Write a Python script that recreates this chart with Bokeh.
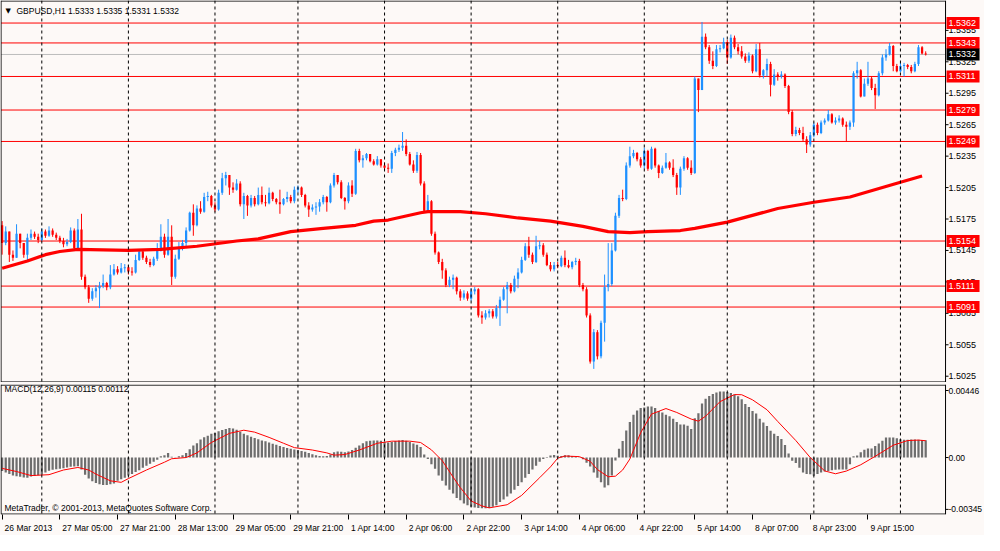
import numpy as np
from bokeh.plotting import figure
from bokeh.models import (ColumnDataSource, Span, Label, FixedTicker, Range1d)
from bokeh.layouts import column
from bokeh.embed import file_html
from bokeh.resources import INLINE
from bokeh.core.properties import value

# ---------------- data (GBPUSD H1) ----------------
first_open = 1.5169
close = [
    1.5152, 1.5163, 1.5141, 1.5138, 1.5161, 1.5152, 1.5141, 1.5157, 1.5161, 1.5158,
    1.5155, 1.5163, 1.5159, 1.5164, 1.5160, 1.5157, 1.5154, 1.5151, 1.5153, 1.5164,
    1.5147, 1.5165, 1.5120, 1.5110, 1.5099, 1.5106, 1.5109, 1.5111, 1.5114, 1.5110,
    1.5122, 1.5127, 1.5124, 1.5128, 1.5129, 1.5125, 1.5124, 1.5136, 1.5144, 1.5138,
    1.5134, 1.5131, 1.5137, 1.5145, 1.5158, 1.5141, 1.5158, 1.5120, 1.5137, 1.5147,
    1.5152, 1.5164, 1.5181, 1.5169, 1.5185, 1.5182, 1.5196, 1.5197, 1.5188, 1.5184,
    1.5200, 1.5214, 1.5217, 1.5205, 1.5203, 1.5209, 1.5189, 1.5197, 1.5188, 1.5195,
    1.5189, 1.5198, 1.5191, 1.5190, 1.5200, 1.5194, 1.5191, 1.5189, 1.5194, 1.5196,
    1.5192, 1.5203, 1.5205, 1.5198, 1.5188, 1.5184, 1.5186, 1.5187, 1.5191, 1.5196,
    1.5191, 1.5207, 1.5217, 1.5210, 1.5195, 1.5192, 1.5207, 1.5199, 1.5240, 1.5231,
    1.5233, 1.5237, 1.5230, 1.5227, 1.5232, 1.5226, 1.5224, 1.5223, 1.5238, 1.5241,
    1.5243, 1.5245, 1.5237, 1.5227, 1.5221, 1.5236, 1.5209, 1.5183, 1.5192, 1.5161,
    1.5143, 1.5134, 1.5126, 1.5112, 1.5117, 1.5119, 1.5106, 1.5100, 1.5104, 1.5099,
    1.5106, 1.5108, 1.5083, 1.5081, 1.5085, 1.5087, 1.5082, 1.5090, 1.5098, 1.5108,
    1.5112, 1.5106, 1.5118, 1.5124, 1.5136, 1.5149, 1.5141, 1.5134, 1.5149, 1.5150,
    1.5141, 1.5131, 1.5127, 1.5131, 1.5130, 1.5138, 1.5131, 1.5129, 1.5134, 1.5135,
    1.5112, 1.5108, 1.5083, 1.5039, 1.5067, 1.5044, 1.5076, 1.5110, 1.5113, 1.5145,
    1.5178, 1.5195, 1.5194, 1.5226, 1.5235, 1.5238, 1.5232, 1.5226, 1.5240, 1.5223,
    1.5242, 1.5226, 1.5219, 1.5224, 1.5229, 1.5224, 1.5217, 1.5205, 1.5223, 1.5233,
    1.5224, 1.5219, 1.5309, 1.5298, 1.5349, 1.5339, 1.5326, 1.5321, 1.5337, 1.5338,
    1.5344, 1.5329, 1.5348, 1.5339, 1.5335, 1.5330, 1.5326, 1.5331, 1.5316, 1.5337,
    1.5312, 1.5317, 1.5323, 1.5303, 1.5313, 1.5311, 1.5313, 1.5302, 1.5277, 1.5256,
    1.5260, 1.5257, 1.5251, 1.5246, 1.5255, 1.5265, 1.5257, 1.5267, 1.5269, 1.5275,
    1.5267, 1.5269, 1.5271, 1.5265, 1.5263, 1.5267, 1.5314, 1.5317, 1.5292, 1.5304,
    1.5309, 1.5300, 1.5293, 1.5314, 1.5329, 1.5332, 1.5340, 1.5321, 1.5316, 1.5321,
    1.5322, 1.5320, 1.5316, 1.5323, 1.5339, 1.5333, 1.5332]
high = [
    1.5173, 1.5168, 1.5161, 1.5145, 1.5170, 1.5161, 1.5152, 1.5161, 1.5165, 1.5163,
    1.5161, 1.5166, 1.5165, 1.5168, 1.5166, 1.5162, 1.5159, 1.5157, 1.5156, 1.5167,
    1.5166, 1.5175, 1.5180, 1.5122, 1.5112, 1.5109, 1.5112, 1.5115, 1.5122, 1.5115,
    1.5131, 1.5132, 1.5130, 1.5133, 1.5132, 1.5131, 1.5129, 1.5141, 1.5146, 1.5146,
    1.5140, 1.5137, 1.5139, 1.5152, 1.5170, 1.5161, 1.5175, 1.5169, 1.5141, 1.5153,
    1.5155, 1.5167, 1.5182, 1.5189, 1.5188, 1.5192, 1.5200, 1.5201, 1.5198, 1.5191,
    1.5203, 1.5219, 1.5220, 1.5217, 1.5210, 1.5213, 1.5211, 1.5200, 1.5198, 1.5198,
    1.5197, 1.5205, 1.5206, 1.5198, 1.5205, 1.5201, 1.5195, 1.5203, 1.5195, 1.5201,
    1.5198, 1.5206, 1.5207, 1.5206, 1.5199, 1.5191, 1.5189, 1.5191, 1.5194, 1.5198,
    1.5197, 1.5209, 1.5219, 1.5217, 1.5212, 1.5196, 1.5210, 1.5212, 1.5242, 1.5242,
    1.5236, 1.5238, 1.5237, 1.5232, 1.5235, 1.5232, 1.5229, 1.5228, 1.5240, 1.5243,
    1.5246, 1.5258, 1.5251, 1.5239, 1.5231, 1.5239, 1.5238, 1.5211, 1.5198, 1.5193,
    1.5163, 1.5144, 1.5137, 1.5128, 1.5120, 1.5122, 1.5120, 1.5108, 1.5107, 1.5106,
    1.5109, 1.5110, 1.5109, 1.5087, 1.5088, 1.5089, 1.5089, 1.5093, 1.5101, 1.5110,
    1.5115, 1.5114, 1.5121, 1.5128, 1.5139, 1.5152, 1.5158, 1.5143, 1.5159, 1.5154,
    1.5152, 1.5143, 1.5134, 1.5134, 1.5134, 1.5140, 1.5145, 1.5136, 1.5135, 1.5138,
    1.5137, 1.5114, 1.5110, 1.5085, 1.5070, 1.5069, 1.5078, 1.5122, 1.5152, 1.5152,
    1.5181, 1.5198, 1.5203, 1.5229, 1.5244, 1.5241, 1.5239, 1.5234, 1.5243, 1.5241,
    1.5244, 1.5243, 1.5227, 1.5226, 1.5238, 1.5230, 1.5232, 1.5219, 1.5225, 1.5235,
    1.5234, 1.5231, 1.5311, 1.5309, 1.5363, 1.5352, 1.5341, 1.5335, 1.5341, 1.5341,
    1.5348, 1.5346, 1.5351, 1.5350, 1.5342, 1.5340, 1.5333, 1.5334, 1.5332, 1.5342,
    1.5343, 1.5318, 1.5328, 1.5325, 1.5318, 1.5315, 1.5316, 1.5314, 1.5303, 1.5279,
    1.5263, 1.5262, 1.5263, 1.5254, 1.5258, 1.5267, 1.5267, 1.5269, 1.5271, 1.5279,
    1.5276, 1.5272, 1.5274, 1.5272, 1.5268, 1.5269, 1.5316, 1.5325, 1.5318, 1.5309,
    1.5325, 1.5311, 1.5304, 1.5316, 1.5332, 1.5337, 1.5343, 1.5341, 1.5323, 1.5324,
    1.5324, 1.5323, 1.5322, 1.5325, 1.5341, 1.5340, 1.5335]
low = [
    1.5141, 1.5150, 1.5134, 1.5135, 1.5138, 1.5147, 1.5138, 1.5134, 1.5155, 1.5156,
    1.5152, 1.5154, 1.5157, 1.5158, 1.5158, 1.5155, 1.5152, 1.5148, 1.5149, 1.5152,
    1.5145, 1.5146, 1.5117, 1.5108, 1.5095, 1.5097, 1.5100, 1.5090, 1.5109, 1.5107,
    1.5108, 1.5121, 1.5122, 1.5123, 1.5124, 1.5122, 1.5121, 1.5123, 1.5135, 1.5136,
    1.5132, 1.5129, 1.5130, 1.5135, 1.5144, 1.5138, 1.5140, 1.5112, 1.5118, 1.5136,
    1.5145, 1.5149, 1.5163, 1.5159, 1.5168, 1.5180, 1.5181, 1.5192, 1.5186, 1.5182,
    1.5183, 1.5198, 1.5207, 1.5198, 1.5200, 1.5202, 1.5187, 1.5175, 1.5178, 1.5186,
    1.5187, 1.5188, 1.5189, 1.5187, 1.5189, 1.5192, 1.5189, 1.5180, 1.5188, 1.5191,
    1.5190, 1.5190, 1.5200, 1.5196, 1.5186, 1.5177, 1.5182, 1.5179, 1.5182, 1.5189,
    1.5182, 1.5190, 1.5205, 1.5208, 1.5194, 1.5184, 1.5190, 1.5196, 1.5198, 1.5229,
    1.5224, 1.5231, 1.5229, 1.5226, 1.5226, 1.5224, 1.5222, 1.5219, 1.5219, 1.5235,
    1.5239, 1.5240, 1.5235, 1.5226, 1.5219, 1.5219, 1.5207, 1.5182, 1.5182, 1.5159,
    1.5141, 1.5132, 1.5118, 1.5110, 1.5110, 1.5108, 1.5103, 1.5097, 1.5098, 1.5097,
    1.5097, 1.5103, 1.5081, 1.5075, 1.5079, 1.5081, 1.5080, 1.5080, 1.5073, 1.5097,
    1.5085, 1.5104, 1.5105, 1.5109, 1.5123, 1.5135, 1.5138, 1.5132, 1.5133, 1.5146,
    1.5139, 1.5130, 1.5125, 1.5125, 1.5128, 1.5129, 1.5129, 1.5128, 1.5127, 1.5131,
    1.5110, 1.5106, 1.5081, 1.5037, 1.5032, 1.5041, 1.5042, 1.5058, 1.5106, 1.5111,
    1.5144, 1.5176, 1.5192, 1.5193, 1.5224, 1.5233, 1.5230, 1.5224, 1.5223, 1.5221,
    1.5222, 1.5224, 1.5214, 1.5218, 1.5223, 1.5222, 1.5215, 1.5198, 1.5198, 1.5221,
    1.5222, 1.5217, 1.5218, 1.5277, 1.5298, 1.5337, 1.5323, 1.5318, 1.5320, 1.5334,
    1.5337, 1.5323, 1.5328, 1.5337, 1.5332, 1.5328, 1.5324, 1.5324, 1.5314, 1.5315,
    1.5310, 1.5309, 1.5311, 1.5292, 1.5302, 1.5307, 1.5309, 1.5300, 1.5275, 1.5254,
    1.5254, 1.5255, 1.5249, 1.5238, 1.5244, 1.5253, 1.5255, 1.5256, 1.5265, 1.5268,
    1.5266, 1.5265, 1.5267, 1.5263, 1.5249, 1.5260, 1.5263, 1.5309, 1.5291, 1.5292,
    1.5302, 1.5298, 1.5280, 1.5292, 1.5312, 1.5326, 1.5331, 1.5316, 1.5315, 1.5315,
    1.5311, 1.5318, 1.5314, 1.5315, 1.5321, 1.5332, 1.5331]

# moving average (thick red line), read at intervals
ma_idx = [0, 7, 12, 16, 21, 35, 44, 54, 65, 71, 80, 89, 98, 103, 107, 116, 118, 127,
          134, 143, 152, 161, 168, 174, 179, 188, 192, 201, 215, 225, 235, 249, 255]
ma_val = [1.5128, 1.5135, 1.5141, 1.5144, 1.5146, 1.5145, 1.5146, 1.5149, 1.5154, 1.5156,
          1.5163, 1.5166, 1.5169, 1.5173, 1.5174, 1.5181, 1.5182, 1.5182, 1.5180, 1.5176,
          1.5173, 1.5168, 1.5163, 1.5162, 1.5163, 1.5164, 1.5166, 1.5172, 1.5185, 1.5191,
          1.5196, 1.5210, 1.5216]

# MACD(12,26,9) histogram, one value per bar
macd = [
    -0.00090, -0.00100, -0.00110, -0.00120, -0.00125, -0.00128, -0.00132, -0.00134, -0.00126, -0.00122,
    -0.00118, -0.00114, -0.00100, -0.00088, -0.00082, -0.00078, -0.00074, -0.00071, -0.00066, -0.00062,
    -0.00060, -0.00058, -0.00080, -0.00114, -0.00140, -0.00158, -0.00170, -0.00178, -0.00182, -0.00182,
    -0.00178, -0.00172, -0.00155, -0.00145, -0.00134, -0.00120, -0.00110, -0.00096, -0.00085, -0.00068,
    -0.00055, -0.00042, -0.00028, -0.00015, 0.00008, 0.00015, 0.00030, 0.00005, 0.00002, 0.00008,
    0.00015, 0.00030, 0.00055, 0.00080, 0.00095, 0.00120, 0.00135, 0.00145, 0.00158, 0.00164,
    0.00175, 0.00184, 0.00190, 0.00196, 0.00194, 0.00185, 0.00172, 0.00158, 0.00148, 0.00138,
    0.00130, 0.00122, 0.00114, 0.00108, 0.00100, 0.00092, 0.00085, 0.00076, 0.00070, 0.00064,
    0.00058, 0.00054, 0.00050, 0.00044, 0.00038, 0.00030, 0.00022, 0.00015, 0.00010, 0.00008,
    0.00010, 0.00020, 0.00036, 0.00040, 0.00038, 0.00036, 0.00040, 0.00050, 0.00065, 0.00080,
    0.00095, 0.00108, 0.00112, 0.00114, 0.00114, 0.00112, 0.00104, 0.00100, 0.00103, 0.00110,
    0.00114, 0.00116, 0.00112, 0.00104, 0.00093, 0.00085, 0.00070, 0.00020, -0.00010, -0.00045,
    -0.00075, -0.00120, -0.00155, -0.00186, -0.00215, -0.00240, -0.00270, -0.00285, -0.00305, -0.00318,
    -0.00328, -0.00333, -0.00335, -0.00337, -0.00338, -0.00335, -0.00328, -0.00318, -0.00295, -0.00280,
    -0.00260, -0.00240, -0.00215, -0.00190, -0.00165, -0.00135, -0.00110, -0.00080, -0.00055, -0.00028,
    -0.00010, 0.00004, 0.00014, 0.00017, 0.00012, 0.00010, 0.00016, 0.00015, 0.00010, 0.00005,
    -0.00002, -0.00012, -0.00035, -0.00060, -0.00100, -0.00135, -0.00165, -0.00200, -0.00185, -0.00120,
    -0.00020, 0.00058, 0.00110, 0.00180, 0.00237, 0.00285, 0.00313, 0.00330, 0.00333, 0.00340,
    0.00340, 0.00330, 0.00310, 0.00300, 0.00285, 0.00274, 0.00258, 0.00237, 0.00220, 0.00220,
    0.00211, 0.00190, 0.00262, 0.00295, 0.00360, 0.00392, 0.00409, 0.00423, 0.00433, 0.00440,
    0.00440, 0.00436, 0.00430, 0.00420, 0.00407, 0.00388, 0.00357, 0.00336, 0.00310, 0.00293,
    0.00258, 0.00233, 0.00210, 0.00179, 0.00159, 0.00144, 0.00124, 0.00083, 0.00027, -0.00021,
    -0.00037, -0.00068, -0.00100, -0.00110, -0.00112, -0.00121, -0.00110, -0.00100, -0.00093, -0.00089,
    -0.00085, -0.00082, -0.00080, -0.00079, -0.00079, -0.00045, 0.00008, 0.00014, 0.00035, 0.00052,
    0.00060, 0.00060, 0.00076, 0.00093, 0.00112, 0.00133, 0.00133, 0.00133, 0.00128, 0.00122,
    0.00118, 0.00118, 0.00120, 0.00120, 0.00118, 0.00116, 0.00115]

# MACD signal line, read at intervals
sig_idx = [0, 4, 8, 13, 17, 21, 24, 26, 30, 33, 35, 40, 45, 47, 51, 54, 58, 63, 67, 70,
           74, 78, 81, 86, 90, 92, 95, 99, 104, 108, 113, 116, 119, 122, 125, 127, 130, 133,
           135, 140, 144, 149, 152, 154, 156, 160, 163, 165, 168, 170, 172, 174, 177, 180,
           184, 187, 191, 193, 195, 199, 203, 205, 208, 212, 215, 220, 224, 228, 231, 234,
           238, 242, 247, 251, 254, 256]
sig_val = [-0.00072, -0.00093, -0.00120, -0.00114, -0.00083, -0.00066, -0.00083, -0.00110,
           -0.00155, -0.00165, -0.00140, -0.00083, -0.00031, -0.00008, 0.00000, 0.00031,
           0.00100, 0.00161, 0.00182, 0.00169, 0.00134, 0.00095, 0.00066, 0.00050, 0.00031,
           0.00016, 0.00020, 0.00050, 0.00095, 0.00109, 0.00109, 0.00100, 0.00051, -0.00021,
           -0.00130, -0.00200, -0.00289, -0.00322, -0.00335, -0.00314, -0.00252, -0.00134,
           -0.00062, -0.00004, 0.00010, 0.00006, -0.00025, -0.00080, -0.00128, -0.00124,
           -0.00083, -0.00010, 0.00165, 0.00289, 0.00326, 0.00300, 0.00256, 0.00242, 0.00275,
           0.00372, 0.00419, 0.00418, 0.00384, 0.00318, 0.00240, 0.00113, 0.00000, -0.00089,
           -0.00108, -0.00090, -0.00048, 0.00008, 0.00082, 0.00113, 0.00116, 0.00112]

levels = [1.5362, 1.5343, 1.5311, 1.5279, 1.5249, 1.5154, 1.5111, 1.5091]
bid = 1.5332
price_ticks = [1.5025, 1.5055, 1.5085, 1.5115, 1.5145, 1.5175, 1.5205,
               1.5235, 1.5265, 1.5295, 1.5325, 1.5355]
macd_ticks = [-0.00345, 0.0, 0.00446]
macd_tick_text = ["-0.00345", "0.00", "0.00446"]
day_starts = [11, 35, 59, 82, 106, 130, 154, 178, 201, 225, 249]
label_idx = [0, 16, 32, 48, 64, 80, 96, 112, 128, 144, 160, 176, 192, 208, 224, 240]
label_text = ["26 Mar 2013", "27 Mar 05:00", "27 Mar 21:00", "28 Mar 13:00",
              "29 Mar 05:00", "29 Mar 21:00", "1 Apr 14:00", "2 Apr 06:00",
              "2 Apr 22:00", "3 Apr 14:00", "4 Apr 06:00", "4 Apr 22:00",
              "5 Apr 14:00", "8 Apr 07:00", "8 Apr 23:00", "9 Apr 15:00"]
title_text = "GBPUSD,H1  1.5333 1.5335 1.5331 1.5332"
macd_text = "MACD(12,26,9) 0.00115 0.00112"
copyright_text = "MetaTrader, \u00a9 2001-2013, MetaQuotes Software Corp."

# ---------------- styling ----------------
BG = "#FDF9F7"
BLUE = "#1E90FF"
RED = "#FF0000"
FONT = "Liberation Sans"
FS_AX = "9px"        # price scale and price tags
FS_MACD = "8.5px"    # MACD scale
FS_TXT = "8.5px"     # captions and time labels
W = 984
H1 = 382
H2F = 135
H2 = H2F + 16
XR0, XR1 = -0.45, 272.3           # visible bar-index range (whole canvas width)
LB = -0.3                          # left border position
AX = 261.5                         # price-scale line position
PPU = W / (XR1 - XR0)              # pixels per bar
px = lambda n_px: n_px / PPU

# Arial/Liberation advance widths (1/1000 em) used to left-align the time labels
CW = {" ": 278, ":": 278, "M": 833, "a": 556, "r": 333, "A": 667, "p": 556}
def text_w(s, size=8.5):
    return sum(CW.get(ch, 556) for ch in s) * size / 1000.0

n = len(close)
idx = np.arange(n)
c = np.array(close)
o = np.array([first_open] + close[:-1])
hi = np.maximum(np.array(high), np.maximum(o, c))
lo = np.minimum(np.array(low), np.minimum(o, c))
col = np.where(c >= o, BLUE, RED)
top = np.maximum(o, c)
bot = np.minimum(o, c)
bot = np.where(top - bot < 0.00002, top - 0.00002, bot)
src = ColumnDataSource(dict(x=idx, hi=hi, lo=lo, top=top, bot=bot, col=col))


def base(height, yr, y_top_border, y_bot_border, ticks, tick_text, tick_fs, x_axis):
    p = figure(width=W, height=height, output_backend="svg", toolbar_location=None,
               tools="", x_range=Range1d(XR0, XR1), y_range=Range1d(*yr),
               x_axis_location="below" if x_axis else None, y_axis_location=None,
               min_border_left=0, min_border_right=0, min_border_top=0,
               min_border_bottom=16 if x_axis else 0)
    p.background_fill_color = BG
    p.border_fill_color = BG
    p.outline_line_color = None
    p.xgrid.visible = False
    p.ygrid.visible = False
    for d in day_starts:
        p.add_layout(Span(location=d, dimension="height", line_color="black",
                          line_width=1, line_dash="3 3"))
    # panel frame
    p.add_layout(Span(location=LB, dimension="height", line_color="black", line_width=1))
    p.add_layout(Span(location=AX, dimension="height", line_color="black", line_width=1))
    p.segment(x0=[LB, LB], x1=[AX, AX], y0=[y_top_border, y_bot_border],
              y1=[y_top_border, y_bot_border], line_color="black", line_width=1)
    # price scale
    p.segment(x0=[AX] * len(ticks), x1=[AX + px(3)] * len(ticks), y0=ticks, y1=ticks,
              line_color="black", line_width=1)
    p.text(x=[AX + px(3)] * len(ticks), y=ticks, text=tick_text,
           text_font=value(FONT), text_font_size=tick_fs, text_baseline="middle",
           text_align="left", text_color="black")
    return p


# ---------------- main price panel ----------------
p = base(H1, (1.50190, 1.53835), 1.53830, 1.50195, price_ticks,
         ["%.4f" % t for t in price_ticks], FS_AX, False)

p.segment(x0=[LB] * len(levels), x1=[AX] * len(levels), y0=levels, y1=levels,
          line_color=RED, line_width=1)
p.segment(x0=[LB], x1=[AX], y0=[bid], y1=[bid], line_color="#BDBDBD", line_width=1)

p.segment(x0="x", y0="lo", x1="x", y1="hi", line_color="col", line_width=1, source=src)
p.vbar(x="x", width=0.62, top="top", bottom="bot", fill_color="col",
       line_color=None, source=src)
p.line(ma_idx, ma_val, line_color=RED, line_width=3.2)

tag_y = levels + [bid]
tag_fill = [RED] * len(levels) + ["black"]
p.rect(x=[AX + px(17.5)] * len(tag_y), y=tag_y, width=33, height=12,
       width_units="screen", height_units="screen", fill_color=tag_fill, line_color=None)
p.text(x=[AX + px(3)] * len(tag_y), y=tag_y, text=["%.4f" % v for v in tag_y],
       text_font=value(FONT), text_font_size=FS_AX, text_baseline="middle",
       text_align="left", text_color="white")

p.add_layout(Label(x=5, x_units="screen", y=H1 - 10, y_units="screen", text="\u25bc",
                   text_font="DejaVu Sans", text_font_size="7px", text_baseline="middle",
                   text_color="black"))
p.add_layout(Label(x=16, x_units="screen", y=H1 - 10, y_units="screen", text=title_text,
                   text_font=FONT, text_font_size=FS_TXT, text_baseline="middle",
                   text_color="black"))

# ---------------- MACD panel ----------------
q = base(H2, (-0.00379, 0.00486), 0.00482, -0.00376, macd_ticks, macd_tick_text,
         FS_MACD, True)

q.vbar(x=idx, width=0.62, top=macd, bottom=0, fill_color="#6E6E6E", line_color=None)
q.line(sig_idx, sig_val, line_color=RED, line_width=1)

q.add_layout(Label(x=4, x_units="screen", y=H2F - 9, y_units="screen", text=macd_text,
                   text_font=FONT, text_font_size=FS_TXT, text_baseline="middle",
                   text_color="black"))
q.add_layout(Label(x=4, x_units="screen", y=7, y_units="screen", text=copyright_text,
                   text_font=FONT, text_font_size=FS_TXT, text_baseline="middle",
                   text_color="black"))

# time axis: a short tick at each labelled bar (minor ticks), label text starting just
# right of it (the label's centred major tick is shifted by half the text width)
tick_pos = [round(i + px(text_w(s)) / 2.0 + px(2.5), 4) for i, s in zip(label_idx, label_text)]
xa = q.xaxis[0]
xa.ticker = FixedTicker(ticks=tick_pos, minor_ticks=label_idx)
xa.major_label_overrides = {t: s for t, s in zip(tick_pos, label_text)}
xa.axis_line_color = None
xa.major_tick_out = 0
xa.major_tick_in = 0
xa.minor_tick_out = 5
xa.minor_tick_in = 0
xa.minor_tick_line_color = "black"
xa.major_label_standoff = 3
xa.major_label_text_font = FONT
xa.major_label_text_font_size = FS_TXT
xa.major_label_text_color = "black"

layout = column(p, q, spacing=2)
layout.styles = {"background-color": BG}
open("out.html", "w").write(file_html(layout, INLINE))
